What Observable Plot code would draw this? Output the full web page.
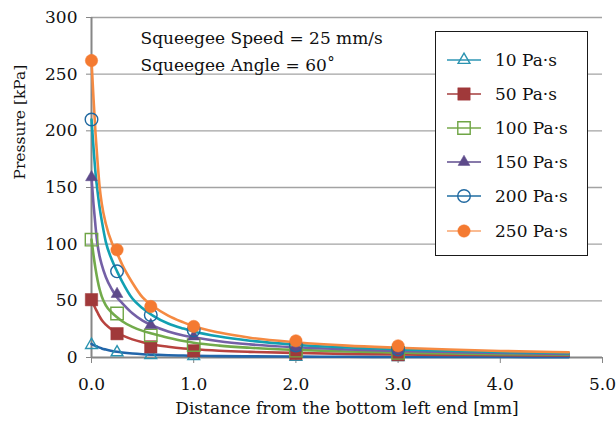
<!DOCTYPE html>
<html>
<head>
<meta charset="utf-8">
<script src="https://cdn.jsdelivr.net/npm/d3@7"></script>
<script src="https://cdn.jsdelivr.net/npm/@observablehq/plot@0.6"></script>
<style>
  html, body { margin: 0; padding: 0; background: #fff; }
  #chart { position: relative; width: 616px; height: 425px; color: #111; font-family: 'DejaVu Serif'; }
  #chart svg.plot { display: block; }
  .legend { position: absolute; left: 435px; top: 31px; width: 151px; height: 223px; border: 1.4px solid #1a1a1a; background: #fff; box-sizing: content-box; }
  .legend .row { position: absolute; left: 0; height: 34px; display: flex; align-items: center; font-size: 17px; white-space: nowrap; }
  .legend .row svg { display: block; flex: none; }
  .legend .row span { margin-left: 9px; }
</style>
</head>
<body>
<div id="chart"></div>
<script>
// Viscosity series
const seriesNames = ["10 Pa·s", "50 Pa·s", "100 Pa·s", "150 Pa·s", "200 Pa·s", "250 Pa·s"];
const symbols = ["triangle", "square", "square", "triangle", "circle", "circle"];
const filled = [false, true, false, true, false, true];
const markerRadius = [4.4, 7, 7, 4.4, 6.3, 6.2];
const markerColors = ["#2b93b0", "#a0393a", "#6fa545", "#5d4a8a", "#1f68a0", "#f47a31"];
const legendLineColors = ["#2e96b5", "#a53d3d", "#77a94b", "#5f4c8e", "#1f6ea2", "#f8a46e"];
const curveColors = ["#2266aa", "#b8433f", "#72ab4b", "#7460a6", "#12a0b2", "#f58a42"];

// Measured pressure [kPa] at each distance [mm]
const markerX = [0, 0.25, 0.58, 1.0, 2.0, 3.0];
const m10  = [11, 4.5, 2, 1.2, 0.6, 0.4];
const m50  = [51, 21, 9.4, 5.9, 3.5, 2.5];
const m100 = [104, 38.8, 19.5, 11, 6, 4];
const m150 = [159, 56, 28.5, 18.5, 8.5, 6];
const m200 = [210, 76, 37.5, 24, 10.5, 7];
const m250 = [262, 95, 45, 27.4, 14.7, 10.3];
const markerValues = [m10, m50, m100, m150, m200, m250];

// Fitted pressure curves
const curveX = [0, 0.02, 0.04, 0.06, 0.08, 0.1, 0.14, 0.2, 0.25, 0.3, 0.4, 0.5, 0.6, 0.75, 0.9, 1.0, 1.25, 1.55, 2.0, 2.5, 3.0, 3.5, 4.0, 4.67];
const c10  = [12, 11, 10.2, 9.4, 8.7, 8, 7, 5.8, 5, 4.4, 3.5, 2.9, 2.5, 2, 1.7, 1.5, 1.2, 1, 0.8, 0.6, 0.5, 0.45, 0.4, 0.35];
const c50  = [51.5, 47, 43, 39.5, 36, 33, 29, 24.5, 21.5, 19.5, 16, 13.5, 11.5, 9.5, 8, 7.3, 6, 5, 4, 3.2, 2.7, 2.3, 2, 1.7];
const c100 = [104, 90, 78, 68, 60, 54, 46, 39.5, 35.5, 32, 27, 23.5, 21, 17.5, 14.5, 13, 10.5, 8.6, 6.7, 5.3, 4.4, 3.6, 3, 2.5];
const c150 = [159, 135, 115, 99, 89, 82, 71, 60, 53, 48, 39, 32.5, 28, 23, 19.5, 17.8, 14.3, 11.6, 9, 7.1, 5.8, 4.8, 4, 3.2];
const c200 = [210, 185, 162, 146, 132, 121, 102, 86, 76, 67, 52, 43.5, 37, 30, 25.5, 23, 18.5, 14.8, 11.3, 8.8, 7.2, 5.9, 4.9, 3.9];
const c250 = [262, 228, 197, 172, 150, 136, 118, 101, 92, 82, 66, 53, 45.5, 37, 31, 27.5, 22, 17.5, 13.5, 10.5, 8.6, 7, 5.8, 4.6];
const curveValues = [c10, c50, c100, c150, c200, c250];

const xTicks = [0, 1, 2, 3, 4, 5];
const yTicks = [0, 50, 100, 150, 200, 250, 300];
const gridTicks = [50, 100, 150, 200, 250, 300];
const conditionText = "Squeegee Speed = 25 mm/s\nSqueegee Angle = 60˚";
const xLabel = "Distance from the bottom left end [mm]";
const yLabel = "Pressure [kPa]";

const serifFont = "DejaVu Serif";
const axisGray = "#868686";
const textColor = "#111";

const curveMarks = seriesNames.map((name, i) =>
  Plot.line(curveX.map((x, j) => ({x, y: curveValues[i][j]})), {
    x: "x", y: "y", stroke: curveColors[i], strokeWidth: 2.6, curve: "monotone-x"
  })
);

const dotMarks = seriesNames.map((name, i) =>
  Plot.dot(markerX.map((x, j) => ({x, y: markerValues[i][j]})), {
    x: "x", y: "y",
    symbol: symbols[i],
    r: markerRadius[i],
    fill: filled[i] ? markerColors[i] : "none",
    stroke: markerColors[i],
    strokeWidth: filled[i] ? 0.5 : 1.4
  })
);

const chart = Plot.plot({
  width: 616,
  height: 425,
  marginLeft: 91,
  marginRight: 14,
  marginTop: 17,
  marginBottom: 68,
  style: "font-size: 17px; background: #fff; font-family: 'DejaVu Serif';",
  x: { domain: [0, 5] },
  y: { domain: [0, 300] },
  marks: [
    Plot.gridY(gridTicks, { stroke: "#a3a3a3", strokeOpacity: 1, strokeWidth: 1.3 }),
    Plot.ruleY([0], { stroke: axisGray, strokeWidth: 2 }),
    Plot.ruleX([0], { stroke: axisGray, strokeWidth: 2 }),
    Plot.axisX({ ticks: xTicks, tickFormat: d3.format(".1f"), tickSize: 6, tickPadding: 14, stroke: axisGray, fill: textColor, label: null, fontSize: 17, fontFamily: serifFont }),
    Plot.axisY({ ticks: yTicks, tickSize: 5, tickPadding: 9, stroke: axisGray, fill: textColor, label: null, fontSize: 17, fontFamily: serifFont }),
    ...curveMarks,
    ...dotMarks,
    Plot.text([conditionText], { text: d => d, frameAnchor: "top-left", dx: 49, dy: 7, textAnchor: "start", lineAnchor: "top", lineHeight: 1.59, fontSize: 17, fill: textColor, fontFamily: serifFont }),
    Plot.text([xLabel], { text: d => d, frameAnchor: "bottom", dy: 51, lineAnchor: "middle", fontSize: 17, fill: textColor, fontFamily: serifFont }),
    Plot.text([yLabel], { text: d => d, frameAnchor: "left", rotate: -90, dx: -71, dy: -8, lineAnchor: "middle", fontSize: 15.5, fill: textColor, fontFamily: serifFont })
  ]
});
chart.classList.add("plot");

const root = document.getElementById("chart");
root.appendChild(chart);

// Legend box drawn inside the plotting area
const legend = document.createElement("div");
legend.className = "legend";
seriesNames.forEach((name, i) => {
  const row = document.createElement("div");
  row.className = "row";
  row.style.top = (10.6 + 34.2 * i) + "px";
  const sw = d3.create("svg").attr("width", 50).attr("height", 34);
  sw.append("line").attr("x1", 11).attr("x2", 45).attr("y1", 17).attr("y2", 17)
    .attr("stroke", legendLineColors[i]).attr("stroke-width", 1.6);
  const symType = symbols[i] === "triangle" ? d3.symbolTriangle : symbols[i] === "square" ? d3.symbolSquare : d3.symbolCircle;
  sw.append("path")
    .attr("transform", "translate(28,17)")
    .attr("d", d3.symbol(symType, Math.PI * markerRadius[i] * markerRadius[i])())
    .attr("fill", filled[i] ? markerColors[i] : "none")
    .attr("stroke", markerColors[i])
    .attr("stroke-width", filled[i] ? 0.5 : 1.4);
  row.appendChild(sw.node());
  row.insertAdjacentHTML("beforeend", "<span style=\"font-family:'DejaVu Serif'\"></span>");
  row.lastChild.textContent = name;
  legend.appendChild(row);
});
root.appendChild(legend);
</script>
</body>
</html>
